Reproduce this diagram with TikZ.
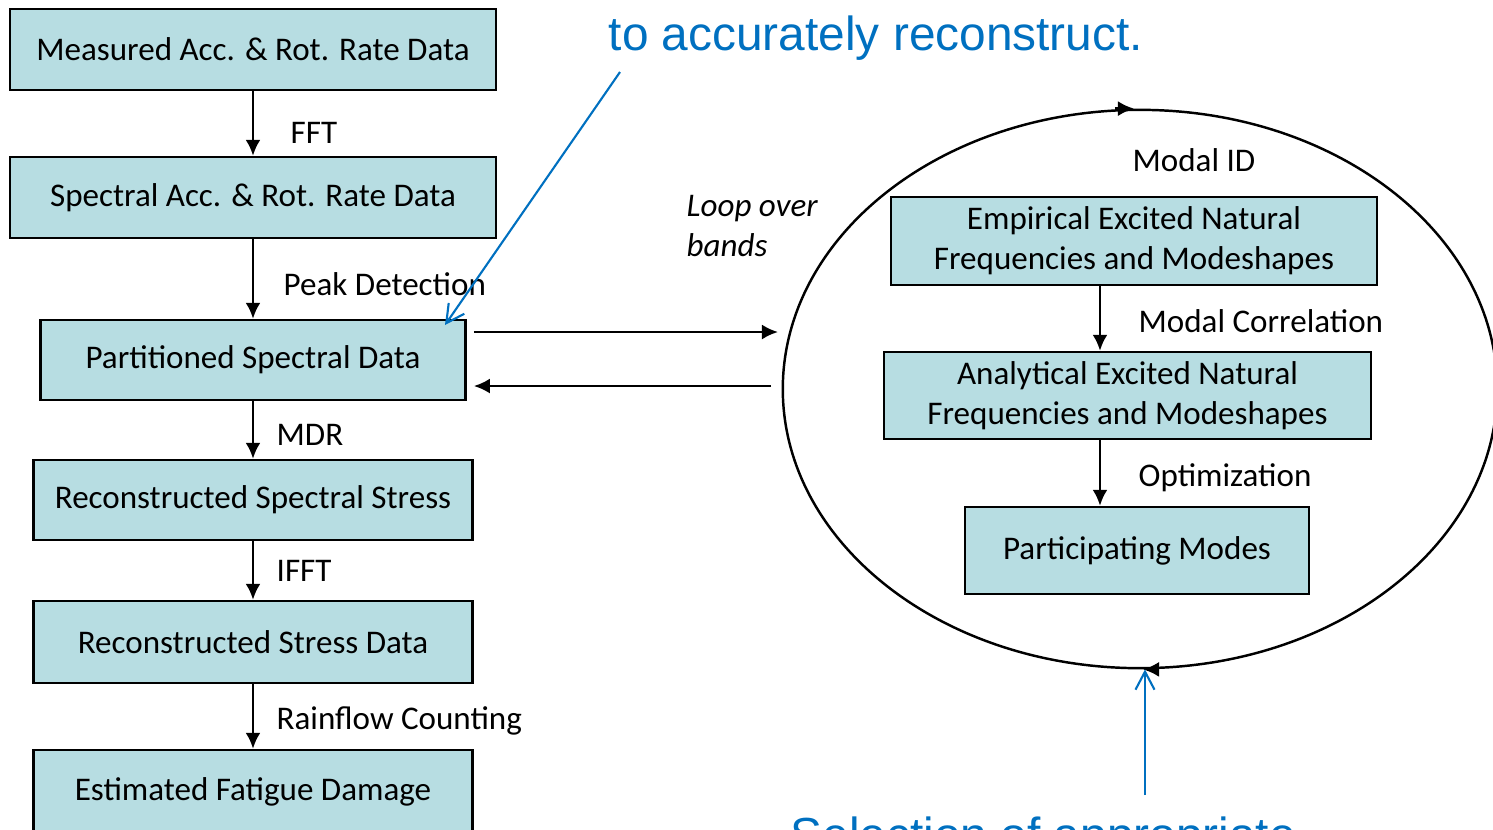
\documentclass[tikz,border=0pt]{standalone}
\usepackage{fontspec}
\setmainfont{Carlito}
\newfontfamily\notefont{Liberation Sans}
\usetikzlibrary{arrows.meta}
\usetikzlibrary{shapes.geometric}
\definecolor{color_box_fill}{RGB}{183,221,226}
\definecolor{color_note}{RGB}{0,112,192}
\def\boxfont{\fontsize{9.4}{11.3}\selectfont}
\def\notesize{\fontsize{13.6}{16}\selectfont}

\begin{document}
\begin{tikzpicture}[x=0.01cm, y=-0.01cm,
        procbox/.style={draw, fill=color_box_fill, line width=0.7pt, inner sep=0pt, align=center, font=\boxfont},
        steplabel/.style={anchor=base west, inner sep=0pt, font=\boxfont},
        flow/.style={line width=0.7pt, -{Latex[length=1.6mm, width=1.5mm]}},
        note/.style={anchor=base west, inner sep=0pt, text=color_note, font=\notefont\notesize},
        notearrow/.style={color_note, line width=0.6pt, -{Straight Barb[length=1.8mm, width=1.9mm]}}]
        \useasboundingbox (0,0) rectangle (1493,829);

        % processing chain on the left
        \node[procbox, minimum width=4.86cm, minimum height=0.81cm] (meas) at (253,49.5) {Measured Acc. \& Rot. Rate Data};
        \node[procbox, minimum width=4.86cm, minimum height=0.81cm] (spec) at (253,197.5) {Spectral Acc. \& Rot. Rate Data};
        \node[procbox, minimum width=4.25cm, minimum height=0.80cm] (part) at (253,360) {Partitioned Spectral Data};
        \node[procbox, minimum width=4.39cm, minimum height=0.80cm] (rss) at (253,500) {Reconstructed Spectral Stress};
        \node[procbox, minimum width=4.39cm, minimum height=0.82cm] (rsd) at (253,642) {Reconstructed Stress Data};
        \node[procbox, minimum width=4.39cm, minimum height=0.84cm] (efd) at (253,792) {Estimated Fatigue Damage};

        \draw[flow] (meas) -- (spec);
        \draw[flow] (spec) -- (part);
        \draw[flow] (part) -- (rss);
        \draw[flow] (rss) -- (rsd);
        \draw[flow] (rsd) -- (efd);

        \node[steplabel] (lfft) at (290,143) {FFT};
        \node[steplabel] (lpeak) at (283,295) {Peak Detection};
        \node[steplabel] (lmdr) at (276,445) {MDR};
        \node[steplabel] (lifft) at (276,581) {IFFT};
        \node[steplabel] (lrain) at (276,729) {Rainflow Counting};

        % loop over the frequency bands
        \node[draw, ellipse, line width=0.7pt, inner sep=0pt, minimum width=7.14cm, minimum height=5.58cm] (loop) at (1140,389) {};
        \draw[flow] ([xshift=-0.25cm]loop.north) -- ([xshift=-0.06cm]loop.north);
        \draw[flow] ([xshift=0.15cm]loop.south) -- ([xshift=0.03cm]loop.south);

        \coordinate (lpin) at (778,332);
        \coordinate (lpout) at (771,386);
        \draw[flow] ([xshift=0.07cm]part.east |- lpin) -- (lpin);
        \draw[flow] (lpout) -- ([xshift=0.07cm]part.east |- lpout);
        \node[anchor=west, inner sep=0pt, align=left, font=\boxfont\itshape] (lbands) at (686,226) {Loop over\\bands};

        % modal identification inside the loop
        \node[steplabel] (lmid) at (1132,171) {Modal ID};
        \node[procbox, minimum width=4.86cm, minimum height=0.88cm] (emp) at (1134,241) {Empirical Excited Natural\\Frequencies and Modeshapes};
        \node[procbox, minimum width=4.87cm, minimum height=0.87cm] (ana) at (1127.5,395.5) {Analytical Excited Natural\\Frequencies and Modeshapes};
        \node[procbox, minimum width=3.44cm, minimum height=0.87cm] (pmod) at (1137,550.5) {Participating Modes};

        \coordinate (mx) at (1100,0);
        \draw[flow] (emp.south -| mx) -- (ana.north -| mx);
        \draw[flow] (ana.south -| mx) -- (pmod.north -| mx);
        \node[steplabel] (lcorr) at (1138,332) {Modal Correlation};
        \node[steplabel] (lopt) at (1138,486) {Optimization};

        % blue call-outs
        \node[note] (ntop) at (608,50) {to accurately reconstruct.};
        \node[note] (nbot) at (790,851) {Selection of appropriate};
        \coordinate (ntopfoot) at (620,72);
        \coordinate (partcorner) at (445,325);
        \coordinate (nbotfoot) at (1145,795);
        \draw[notearrow] (ntopfoot) -- (partcorner);
        \draw[notearrow] (nbotfoot) -- (loop.south -| nbotfoot);
\end{tikzpicture}
\end{document}
